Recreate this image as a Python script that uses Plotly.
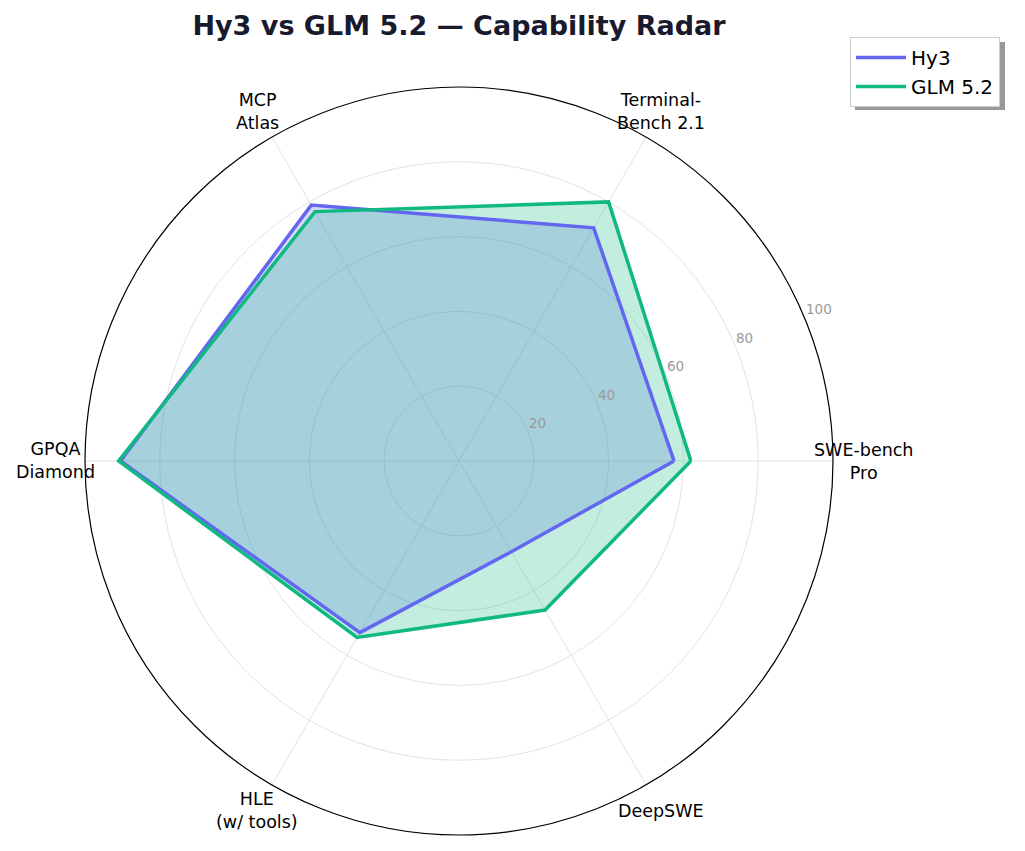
import math
import plotly.graph_objects as go

categories = ["SWE-bench<br>Pro", "Terminal-<br>Bench 2.1", "MCP<br>Atlas", "GPQA<br>Diamond", "HLE<br>(w/ tools)", "DeepSWE"]
hy3_values = [57.5, 72, 79, 90.5, 53, 28]
glm_values = [62, 80, 77, 91, 54.5, 46]
radial_ticks = [20, 40, 60, 80, 100]

W, H = 1025, 851
cx, cy, R = 459, 461, 374
LABEL_R = 404
RLABEL_ANGLE = 22.5

series = [
    ("Hy3", hy3_values, "#6366f1", "rgba(99,102,241,0.25)"),
    ("GLM 5.2", glm_values, "#10b981", "rgba(16,185,129,0.25)"),
]

def closed(vals):
    return list(vals) + [vals[0]]

fig = go.Figure()
# fills first
for name, vals, col, fcol in series:
    fig.add_trace(go.Scatterpolar(
        r=closed(vals), theta=closed(categories), name=name,
        mode="lines", line=dict(color=fcol, width=0),
        fill="toself", fillcolor=fcol, showlegend=False, hoverinfo="skip"))
# lines on top
for name, vals, col, fcol in series:
    fig.add_trace(go.Scatterpolar(
        r=closed(vals), theta=closed(categories), name=name,
        mode="lines", line=dict(color=col, width=3.5)))

annotations = []
n = len(categories)
for i, cat in enumerate(categories):
    a = 2 * math.pi * i / n
    annotations.append(dict(
        text=cat, xref="paper", yref="paper",
        x=(cx + LABEL_R * math.cos(a)) / W, y=(H - cy + LABEL_R * math.sin(a)) / H,
        xanchor="center", yanchor="middle", align="center", showarrow=False,
        font=dict(family="DejaVu Sans", size=17.5, color="black")))

ra = math.radians(RLABEL_ANGLE)
for t in radial_ticks:
    rp = t / 100 * R
    annotations.append(dict(
        text=str(t), xref="paper", yref="paper",
        x=(cx + rp * math.cos(ra)) / W, y=(H - cy + rp * math.sin(ra)) / H,
        xanchor="left", yanchor="bottom", showarrow=False, borderpad=0,
        font=dict(family="DejaVu Sans", size=13.5, color="#999999")))

fig.update_layout(
    width=W, height=H,
    margin=dict(l=0, r=0, t=0, b=0),
    paper_bgcolor="white", plot_bgcolor="white",
    font=dict(family="DejaVu Sans", color="black"),
    title=dict(text="<b>Hy3 vs GLM 5.2 — Capability Radar</b>",
               x=cx / W, xanchor="center", y=1 - 26 / H, yanchor="middle",
               font=dict(family="DejaVu Sans", size=27, color="#1a1a2e")),
    polar=dict(
        domain=dict(x=[(cx - R) / W, (cx + R) / W], y=[(H - cy - R) / H, (H - cy + R) / H]),
        bgcolor="white",
        angularaxis=dict(
            type="category", rotation=0, direction="counterclockwise",
            showline=True, linecolor="black", linewidth=1.2,
            gridcolor="#e3e3e3", gridwidth=1,
            ticks="", showticklabels=False),
        radialaxis=dict(
            range=[0, 100], tickvals=radial_ticks,
            angle=RLABEL_ANGLE, showline=False, ticks="", showticklabels=False,
            gridcolor="#e3e3e3", gridwidth=1),
    ),
    legend=dict(x=850 / W, y=1 - 37 / H, xanchor="left", yanchor="top",
                bgcolor="white", bordercolor="#cccccc", borderwidth=1,
                itemwidth=50,
                font=dict(family="DejaVu Sans", size=20, color="black")),
    annotations=annotations,
    shapes=[dict(type="rect", xref="paper", yref="paper",
                 x0=855 / W, x1=1005 / W, y0=1 - 110 / H, y1=1 - 42 / H,
                 fillcolor="rgba(0,0,0,0.4)", line=dict(width=0), layer="above")],
    showlegend=True,
)

fig.write_html("out.html")
